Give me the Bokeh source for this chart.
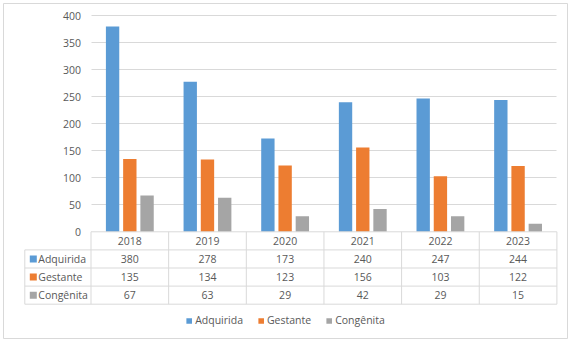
from bokeh.plotting import figure
from bokeh.models import Range1d, FixedTicker, Legend, LegendItem, LinearAxis, Grid
from bokeh.embed import file_html
from bokeh.resources import INLINE
from bokeh.core.properties import value

# ---------------- data ----------------
years = ["2018", "2019", "2020", "2021", "2022", "2023"]
adquirida = [380, 278, 173, 240, 247, 244]
gestante = [135, 134, 123, 156, 103, 122]
congenita = [67, 63, 29, 42, 29, 15]
series_names = ["Adquirida", "Gestante", "Congênita"]
series_values = [adquirida, gestante, congenita]
series_colors = ["#5B9BD5", "#ED7D31", "#A5A5A5"]
y_ticks = [0, 50, 100, 150, 200, 250, 300, 350, 400]

# ---------------- style / layout (figure pixels) ----------------
FONT_NAME = "Open Sans"
FONT = value(FONT_NAME)
FS = "10.5px"
TXT = "#595959"
LINE = "#D9D9D9"

W, H = 571, 340
B_L, B_T, B_R, B_B = 3, 3, 567, 338      # outer border box
X0_PX, X6_PX = 90.5, 556.4               # plot area left/right
YTOP_PX, YZERO_PX = 15.3, 231.3          # top gridline / zero line
ROW_H = 18.1
TBL_LEFT_PX = 24.3
LEG_CENTER_PX = 320.4

n = len(years)
xs = [i + 0.5 for i in range(n)]
K = (X6_PX - X0_PX) / n
ppu = (YZERO_PX - YTOP_PX) / y_ticks[-1]


def ux(px):
    return (px - X0_PX) / K


def uy(py):
    return (YZERO_PX - py) / ppu


p = figure(width=W, height=H, output_backend="svg", toolbar_location=None,
           x_range=Range1d(ux(B_L), ux(B_R)), y_range=Range1d(uy(B_B), uy(B_T)),
           x_axis_location=None, y_axis_location=None,
           min_border_left=B_L, min_border_top=B_T,
           min_border_right=W - B_R, min_border_bottom=H - B_B)
p.outline_line_color = LINE
p.outline_line_width = 1
p.grid.visible = False

# y axis placed at the plot-area edge
yax = LinearAxis(fixed_location=0, ticker=FixedTicker(ticks=y_ticks))
yax.axis_line_color = None
yax.major_tick_line_color = None
yax.minor_tick_line_color = None
yax.major_tick_out = 0
yax.major_tick_in = 0
yax.major_label_standoff = 10
yax.major_label_text_font = FONT_NAME
yax.major_label_text_font_size = FS
yax.major_label_text_color = TXT
p.add_layout(yax, "left")

g = Grid(dimension=1, ticker=FixedTicker(ticks=y_ticks[1:]), grid_line_color=LINE)
if "cross_bounds" in Grid.properties():
    g.cross_bounds = (0, n)
    p.add_layout(g)
else:
    p.segment(x0=[0] * len(y_ticks), y0=y_ticks, x1=[n] * len(y_ticks), y1=y_ticks,
              line_color=LINE)

# bars
offsets = [-0.222, 0.0, 0.222]
bar_w = 0.172
for vals, col, off in zip(series_values, series_colors, offsets):
    p.vbar(x=[x + off for x in xs], top=vals, bottom=0, width=bar_w,
           fill_color=col, line_color=None)

# ---------------- data table ----------------
nrows = len(series_names)
R = ROW_H / ppu
tbl_left = ux(TBL_LEFT_PX)
# horizontal lines: top of header, then each row bottom
h_y = [0.0] + [-(i + 1) * R for i in range(nrows + 1)]
h_x0 = [0.0, tbl_left] + [tbl_left] * nrows
p.segment(x0=h_x0, y0=h_y, x1=[n] * len(h_y), y1=h_y, line_color=LINE)
# vertical lines for the category columns
cols = list(range(n + 1))
p.segment(x0=cols, y0=[0] * len(cols), x1=cols, y1=[-(nrows + 1) * R] * len(cols),
          line_color=LINE)
# left edge of the label column
p.segment(x0=[tbl_left], y0=[-R], x1=[tbl_left], y1=[-(nrows + 1) * R], line_color=LINE)

# header row (years)
p.text(x=xs, y=[-R / 2] * n, text=years, text_align="center", text_baseline="middle",
       text_font=FONT, text_font_size=FS, text_color=TXT)

items = []
for r, (name, vals, col) in enumerate(zip(series_names, series_values, series_colors)):
    cy = -(r + 1.5) * R
    sq = p.rect(x=[ux(TBL_LEFT_PX + 8.5)], y=[cy], width=7, height=7,
                width_units="screen", height_units="screen",
                fill_color=col, line_color=None)
    p.text(x=[ux(TBL_LEFT_PX + 13.5)], y=[cy], text=[name], text_align="left",
           text_baseline="middle", text_font=FONT, text_font_size=FS, text_color=TXT)
    p.text(x=xs, y=[cy] * n, text=[str(v) for v in vals], text_align="center",
           text_baseline="middle", text_font=FONT, text_font_size=FS, text_color=TXT)
    items.append(LegendItem(label=name, renderers=[sq]))

legend = Legend(items=items, orientation="horizontal", location="bottom_center",
                border_line_color=None, background_fill_alpha=0,
                label_text_font=FONT_NAME, label_text_font_size=FS,
                label_text_color=TXT, glyph_width=7, glyph_height=7,
                label_height=14, label_standoff=3, spacing=14, padding=0,
                margin=int(round(B_B - LEG_CENTER_PX - 7)))
p.add_layout(legend)

open("out.html", "w").write(file_html(p, INLINE))
